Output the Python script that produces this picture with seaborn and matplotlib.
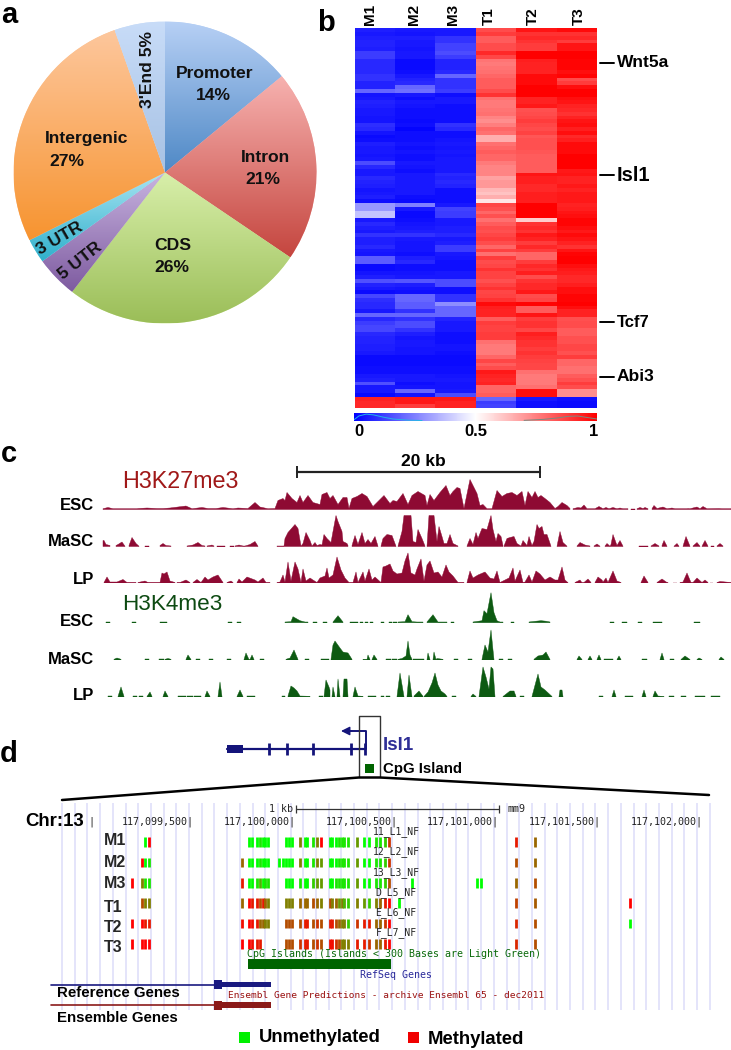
import numpy as np
import matplotlib
matplotlib.use("Agg")
import matplotlib.pyplot as plt
from matplotlib.colors import LinearSegmentedColormap
import seaborn as sns

W, H = 731, 1050

# panel a
pie_labels = ["Promoter", "Intron", "CDS", "5 UTR", "3 UTR", "Intergenic", "3'End"]
pie_values = [14, 20.5, 26, 4.5, 2.6, 27, 5.4]
pie_top = ["#b7d0f5", "#f7b2b0", "#d8efaa", "#c8b4e0", "#a8e4f2", "#fdc79d", "#c8dcf8"]
pie_bottom = ["#4f89c6", "#c5463f", "#9bbe58", "#7e5ba0", "#30b0cc", "#f79430", "#a7c2e4"]

# panel b
heat_samples = ["M1", "M2", "M3", "T1", "T2", "T3"]
heat_m1 = [.06,.05,.06,.07,.07,.06,.12,.12,.08,.08, .08,.08,.1,.1,.07,.07,.2,.04,.05,.07,
           .06,.05,.05,.04,.04,.09,.08,.04,.02,.03, .06,.05,.05,.04,.05,.15,.08,.05,.05,.08,
           .07,.06,.04,.05,.06,.03,.3,.3,.38,.38, .05,.08,.06,.05,.1,.06,.06,.08,.05,.04,
           .18,.18,.02,.02,.04,.06,.16,.07,.05,.02, .14,.09,.08,.08,.05,.2,.08,.12,.14,.14,
           .08,.07,.07,.06,.06,.05,.02,.02,.02,.03, .03,.05,.06,.16,.05,.05,.02,.93,.92,.92]
heat_m2 = [.05,.04,.06,.05,.05,.04,.05,.05,.02,.02, .02,.03,.05,.07,.08,.2,.22,.05,.03,.05,
           .04,.03,.03,.03,.02,.03,.01,.03,.03,.03, .04,.03,.04,.03,.03,.05,.04,.03,.05,.05,
           .05,.05,.05,.05,.03,.02,.25,.05,.02,.02, .03,.04,.05,.06,.1,.05,.04,.04,.04,.03,
           .06,.08,.03,.03,.04,.05,.17,.06,.04,.03, .2,.2,.18,.18,.1,.2,.1,.15,.15,.1,
           .06,.04,.05,.05,.04,.04,.02,.02,.02,.03, .03,.05,.05,.03,.04,.2,.04,.95,.95,.88]
heat_m3 = [.05,.05,.1,.1,.13,.13,.15,.12,.07,.07, .07,.08,.2,.1,.1,.1,.12,.03,.05,.05,
           .03,.03,.03,.03,.03,.1,.08,.03,.03,.04, .05,.04,.05,.04,.05,.05,.05,.05,.08,.07,
           .08,.07,.03,.03,.03,.03,.05,.13,.12,.12, .05,.05,.06,.06,.08,.05,.06,.12,.12,.05,
           .04,.03,.03,.03,.05,.05,.15,.15,.03,.03, .1,.1,.28,.2,.2,.2,.07,.05,.05,.05,
           .03,.03,.03,.04,.04,.03,.02,.02,.02,.03, .03,.04,.05,.04,.04,.05,.15,.95,.93,.93]
heat_t1 = [.85,.88,.82,.82,.85,.85,.92,.86,.77,.76, .77,.78,.8,.82,.82,.82,.85,.9,.78,.76,
           .76,.77,.78,.74,.72,.75,.8,.78,.66,.66, .78,.8,.82,.8,.8,.76,.74,.74,.74,.68,
           .7,.7,.64,.62,.66,.55,.86,.84,.8,.84, .78,.82,.85,.84,.86,.88,.85,.8,.87,.78,
           .88,.85,.86,.9,.87,.87,.84,.87,.9,.86, .87,.9,.98,.94,.93,.93,.82,.88,.87,.87,
           .88,.88,.78,.76,.76,.76,.8,.86,.82,.85, .95,.93,.92,.93,.8,.8,.82,.2,.12,.13]
heat_t2 = [.96,.9,.92,.9,.88,.88,1,1,.94,.93, .93,.93,.98,.98,.98,1,1,1,.93,.93,
           .95,.84,.85,.86,.88,.86,.85,.87,.83,.84, .84,.84,.83,.82,.82,.82,.82,.82,.96,.94,
           .94,.92,.92,.94,.94,.94,1,1,1,1, .6,.9,.92,.9,.95,.93,.88,.92,.88,.8,
           .8,.88,.92,.9,.94,.85,.9,.92,.92,.95, .85,.86,.99,.82,.82,.96,.88,.9,.9,.86,
           .94,.92,.9,.9,.88,.9,.88,.87,.86,.86, .78,.76,.76,.76,.78,.97,.97,.05,.03,.03]
heat_t3 = [.98,.9,.92,.88,.96,.96,1,1,.99,.99, .99,.97,.99,.85,.88,.97,1,1,.97,.96,
           .93,.92,.9,.93,.96,.97,.94,.97,.92,.94, .98,.98,.98,1,1,1,1,.95,.96,.93,
           .93,.95,.93,.95,.95,.95,.93,.94,.96,.97, .99,.99,.97,.95,.98,.96,.93,.9,.96,.99,
           1,1,.97,.95,.94,.92,.92,.94,.97,.97, .99,.99,1,.97,.93,.93,.84,.85,.85,.82,
           .82,.84,.84,.86,.86,.84,.88,.8,.8,.78, .78,.82,.84,.88,.85,.72,.72,.03,.02,.02]
heat_genes = ["Wnt5a", "Isl1", "Tcf7", "Abi3"]
heat_gene_rows = [9.0, 38.7, 77.4, 91.7]
cbar_trace_x = [0, .02, .05, .08, .12, .16, .22, .28, .7, .78, .84, .88, .92, .96, 1]
cbar_trace_y = [.1, .6, .85, .75, .45, .2, .05, 0, .02, .15, .35, .55, .6, .4, .2]

# panel c, position along the locus and signal height
h3k27_esc_pos = [103,108,113,137,138,147,157,163,170,186,192,202,208,216,223,233,238,248,255,260,268,275,278,283,285,287,292,297,300,303,308,313,320,
                 322,327,330,333,338,343,347,349,352,357,362,367,373,377,384,390,393,397,403,408,412,418,425,427,430,434,440,446,450,453,457,460,464,470,475,477,480,483,487,492,497,502,507,512,517,522,525,528,
                 532,535,538,541,545,550,555,558,562,567,570,None,573,578,581,584,587,595,599,603,606,609,613,617,620,623,628,None,631,635,None,637,640,643,645,648,None,652,654,657,663,667,672,675,687,688,690,697,700,703,707,719,722,731]
h3k27_esc_h = [.8,2,.8,.8,1,1.5,1,1,1.5,3.5,.8,2,1,1,2,.8,1.5,1,7,2.5,.8,1,9,11,9,17,11,7,14,7,14,7,5,
               15,17,11,14,5,12,12,1,11,13,16,13,3,7,14,6,9,8,16,5,14,18,14,4,15,9,17,24,14,18,22,21,1,30,20,16,4,5,.8,.8,19,13,16,17,14,18,4,18,
               12,18,12,14,11,7,1,3,7,4,1,None,.8,2,1.5,4.5,.8,.8,3,.8,2,.8,2,.8,1.5,.8,.8,None,.8,.8,None,.8,2,1,2,.8,None,.8,4,1,2.5,.8,1.5,.8,.8,1,.8,2.5,.8,3,.8,1,.8,.8]
h3k27_masc_pos = [103,104,106,110,None,116,118,122,125,None,129,132,136,139,None,145,149,None,160,163,166,171,None,187,193,198,202,205,None,207,212,214,None,217,225,None,230,234,None,235,239,243,245,250,255,258,None,277,284,285,288,295,298,301,303,306,310,312,315,317,320,
                  322,324,327,331,333,336,338,342,343,347,348,None,352,355,358,362,365,368,371,375,378,None,381,383,387,392,396,None,398,402,404,411,413,416,418,422,425,None,427,429,434,437,439,442,444,447,450,453,458,None,467,470,473,476,478,482,487,491,493,496,498,501,503,None,504,507,510,514,517,521,523,527,529,
                  532,534,537,539,542,544,547,551,None,557,560,563,567,None,577,580,585,590,None,594,597,600,None,605,607,610,611,613,617,620,623,None,639,648,None,651,655,659,None,662,664,667,None,674,677,679,None,683,686,690,None,693,697,700,None,702,705,708,None,711,714,None,717,720,723]
h3k27_masc_h = [6,6,2,1,None,1,2,4.5,.3,None,1,9,3,.3,None,1,1,None,1,3,1,.5,None,.5,1.5,4,1,.5,None,.5,1.5,.5,None,.5,.5,None,1,1,None,.5,1.5,.5,.5,2,5,.3,None,.5,.5,8,14,22,18,.5,3,14,6,.5,4,1,2,
                1.5,12,8,4,15,31,25,15,5,3,1,None,1,11,2,14,3,7,3,10,.3,None,.5,8,12,11,.3,None,.5,15,31,31,5,4,17,8,.5,None,.5,31,31,5,20,10,3,3,12,3,.5,None,.5,8,2,14,8,18,17,31,17,5,13,10,1,None,.5,8,9,10,3,.5,6,1,10,
                1,5,22,18,20,12,12,.3,None,.3,15,4,.3,None,.5,4,1.5,.5,None,.5,2.5,.3,None,.5,3,.3,2,12,1,6,.3,None,.5,.5,None,.5,3,.5,None,1,6,.3,None,.3,3,.3,None,.3,10,.3,None,.5,4,.3,None,.3,6,.3,None,.5,.5,None,.5,3,.5]
h3k27_lp_pos = [104,107,110,117,123,127,136,None,138,145,148,160,162,164,167,170,175,None,177,180,186,190,None,193,197,201,205,208,213,218,223,None,227,231,233,None,237,239,242,247,255,258,263,266,270,None,277,280,283,285,288,291,295,298,301,303,306,310,313,
                317,320,325,327,329,333,337,341,345,349,353,356,358,363,365,369,372,375,381,383,386,390,393,397,402,405,408,411,415,417,421,424,427,430,434,438,442,446,449,453,458,464,None,467,470,473,478,485,490,494,497,500,505,509,513,515,520,523,525,529,532,536,540,545,550,555,558,562,565,568,None,575,580,582,584,588,591,None,595,598,602,603,606,608,613,617,621,None,641,644,648,None,657,662,667,668,None,673,677,None,680,683,687,691,693,697,702,705,708,None,710,713,None,717,720,731]
h3k27_lp_h = [.5,6,1,1,3.5,.5,.5,None,.5,2,.5,.5,10,9,11,2,.5,None,.5,.5,3,.5,None,.5,3.5,.5,6,3,6,8,.5,None,.5,2,.5,None,.5,4,1,6,3,1,5,.5,.5,None,.5,1,8,1,21,2,21,14,.5,14,2,5,3,
              .5,5,7,15,5,8,26,13,5,.5,.5,11,.5,11,2,14,3,6,.5,16,17,19,12,9,10,22,30,10,8,14,24,2,18,22,10,11,6,18,11,7,.5,.5,None,.5,12,5,8,11,5,4,12,.5,3,5,15,2,13,.5,1,8,1,12,9,3,6,3,3,16,3,.3,None,.5,3,.3,.5,4,.5,None,.5,6,3,1,5,.5,12,2,.5,None,.5,7,.5,None,.5,4,.5,.5,None,.5,.5,None,.5,1,10,.5,.5,5,.5,3,.5,None,.5,.5,None,.5,1.5,.5]
h3k4_esc_pos = [106,110,None,132,136,None,160,167,None,228,232,None,237,241,None,285,291,293,300,305,308,None,313,317,None,323,327,None,333,338,343,None,350,358,None,360,363,None,365,368,None,370,373,None,381,384,None,389,392,None,393,397,None,398,405,408,412,417,423,None,427,433,438,447,None,451,454,None,473,482,484,487,491,494,497,500,503,None,511,514,None,529,536,541,546,550,None,610,614,None,622,627,None,638,642,None,653,662,None,694,700]
h3k4_esc_h = [.7,.7,None,.7,.7,None,.7,.7,None,.7,.7,None,.7,.7,None,.7,1,6,2,.7,.7,None,.7,.7,None,.7,.7,None,.7,7,.7,None,.7,.7,None,.7,.7,None,.7,.7,None,.7,.7,None,.7,.7,None,.7,.7,None,.7,.7,None,.7,1,8,1,.7,.7,None,.7,8,.7,.7,None,.7,.7,None,.7,2,12,9,30,10,2,.7,.7,None,.7,.7,None,.7,1.5,2,1.5,.7,None,.7,.7,None,.7,.7,None,.7,.7,None,.7,.7,None,.7,.7]
h3k4_masc_pos = [114,117,121,None,145,149,None,159,164,None,165,168,171,None,186,188,191,None,196,200,None,209,213,None,227,231,None,244,246,249,250,252,254,None,260,264,None,286,290,294,298,None,305,309,None,321,329,None,331,333,335,340,343,348,352,None,363,367,368,370,None,372,374,377,None,386,391,None,392,397,None,398,402,406,408,410,412,None,413,424,None,427,428,430,None,433,434,436,437,443,None,454,458,None,468,472,None,482,485,488,491,493,494,None,499,503,None,508,512,None,534,538,543,546,550,None,577,579,582,None,588,590,592,None,597,599,601,None,604,613,None,617,619,621,None,642,647,None,660,662,664,None,670,674,None,681,685,690,None,697,699,702,None,719,721,724]
h3k4_masc_h = [.7,2,.7,None,.7,.7,None,.7,.7,None,.7,1.5,.7,None,.7,5,.5,None,.7,.7,None,.7,.7,None,.7,.7,None,.5,7,.5,.5,5,.5,None,.7,.7,None,.7,2,10,.5,None,.7,.7,None,.7,.7,None,.7,15,19,12,8,7,.7,None,.7,.7,5,.5,None,.5,5,.5,None,.7,.7,None,.7,.7,None,.7,1.5,4,19,5,.7,None,.7,.7,None,.5,7,.5,None,.5,8,.5,1.5,.7,None,.7,.7,None,.7,.7,None,.7,15,8,30,10,.5,None,.7,.7,None,.7,.7,None,.7,4,5,8,.5,None,.5,4,.5,None,.5,4,.5,None,.5,5,.5,None,.7,.7,None,.5,4,.5,None,.7,.7,None,.5,7,.5,None,.7,.7,None,.5,4,.5,None,.5,2,.5,None,.5,3,.5]
h3k4_lp_pos = [108,112,None,118,121,124,None,133,137,None,139,143,None,147,150,152,None,163,165,168,None,178,186,None,187,193,None,194,201,None,205,207,210,None,218,220,222,None,237,240,243,None,247,255,None,282,285,None,288,291,294,297,300,310,None,319,323,None,324,326,329,330,None,332,333,335,None,337,338,340,None,343,344,347,348,None,353,355,358,363,None,368,376,None,381,384,None,386,390,None,397,400,404,None,407,409,412,None,414,419,423,None,424,428,432,435,438,441,445,447,None,452,456,None,471,473,476,None,479,483,486,489,491,493,495,None,503,510,514,516,None,520,524,None,532,538,541,545,552,None,559,560,562,563,None,599,603,None,612,614,616,None,625,633,None,642,644,646,None,653,655,658,664,None,669,674,None,681,686,None,695,705,None,711,720]
h3k4_lp_h = [.7,.7,None,.5,10,.5,None,.7,.7,None,.7,.7,None,.5,5,.5,None,.5,6,.5,None,.7,.7,None,.7,.7,None,.7,.7,None,.5,6,.5,None,.5,15,.5,None,.5,7,.5,None,.7,.7,None,.7,.7,None,1,11,9,6,1,.7,None,.7,.7,None,.5,17,10,7,None,.5,10,.5,None,.5,18,.5,None,.5,18,18,.5,None,.5,10,1,.7,None,.7,.7,None,.7,.7,None,.7,.7,None,.5,24,.5,None,.5,22,.5,None,1,6,.7,None,.5,5,14,24,12,6,3,.5,None,.7,.7,None,.5,3,.5,None,.5,30,20,8,30,28,.5,None,.5,6,6,.5,None,.7,.7,None,.5,23,10,7,.5,None,.5,7,7,.5,None,.7,.7,None,.5,7,.5,None,.7,.7,None,.5,7,.5,None,.5,6,1,.5,None,.7,.7,None,.7,.7,None,.7,.7,None,.7,.7]

# panel d, sites in bp on chr13
cpg_sites = [117099195,117099244,117099261,117099279,117099734,117099772,117099784,117099811,117099824,117099838,117099849,
             117099862,117099919,117099936,117099952,117099965,117099982,117100021,117100044,117100054,117100083,117100105,
             117100124,117100169,117100178,117100196,117100211,117100226,117100239,117100259,117100300,117100336,117100360,
             117100396,117100414,117100439,117100460,117100508,117100570,117100890,117100911,117101081,117101176,117101643]
n = None
meth_m1 = [n,n,0,1,n,0,0,0,.1,0,0,0,n,n,0,0,0,.5,0,0,.1,.5,1,0,0,0,.1,.1,.1,.1,.4,0,0,.1,.1,.2,.8,n,n,n,n,.9,.6,n]
meth_m2 = [n,1,0,.1,.6,0,0,0,.1,0,0,0,0,0,0,0,0,.5,0,0,.1,.5,.4,0,0,0,.1,.1,.1,.1,.4,0,0,.1,.1,.2,.8,n,n,n,n,.7,.6,n]
meth_m3 = [1,.5,.1,.1,.9,0,0,.1,.3,0,.1,.1,n,n,0,0,0,.1,0,0,.2,.4,.4,0,0,.1,.1,.1,.1,.1,.4,0,0,.1,.1,.2,.7,n,0,0,0,.6,.7,n]
meth_t1 = [n,.7,.5,.5,.6,1,.9,.9,.7,.9,.6,.5,n,n,.5,.5,.5,.6,.6,.6,.7,.6,.5,.7,.5,.6,.4,.5,.3,.2,.5,.4,.2,.5,.6,.9,1,0,n,n,n,.75,.65,1]
meth_t2 = [1,1,.9,.9,.95,1,.95,.9,.6,.6,.5,.5,n,n,.7,.7,.7,.7,.9,.9,.7,.8,.7,.9,.9,.7,.6,.5,.5,.2,.8,.9,.9,.6,.6,.8,1,n,n,n,n,.85,.7,0]
meth_t3 = [1,1,1,1,1,1,.95,.9,.9,n,n,n,n,n,.7,.7,.7,.8,.9,.9,.7,.8,.7,.95,.95,.8,.7,.5,.5,.5,.9,.9,.8,.6,.6,.9,1,n,n,n,n,.85,.7,n]
meth_rows = [meth_m1, meth_m2, meth_m3, meth_t1, meth_t2, meth_t3]
meth_labels = ["M1", "M2", "M3", "T1", "T2", "T3"]
meth_names = ["11_L1_NF", "12_L2_NF", "13_L3_NF", "D_L5_NF", "E_L6_NF", "F_L7_NF"]
tick_bp = [117099500, 117100000, 117100500, 117101000, 117101500, 117102000]
cpg_island = [117099765, 117100468]
reference_gene = [116999000, 117099600, 117099640, 117099880]
isl1_exons = [269, 287, 313, 351, 365]


sns.set_theme(style="white")
plt.rcParams['font.family'] = ['Liberation Sans', 'DejaVu Sans']
fig = plt.figure(figsize=(W / 100, H / 100), dpi=100)


def px_axes(left, top, width, height):
    return fig.add_axes([left / W, 1 - (top + height) / H, width / W, height / H])


# --- a: pie, each slice filled with its own vertical gradient ---
ax_pie = px_axes(13.5, 21.5, 303, 302)
wedges, _ = ax_pie.pie(pie_values, startangle=90, counterclock=False, radius=1,
                       colors=pie_top, wedgeprops={"linewidth": 0})
for wedge, top, bottom in zip(wedges, pie_top, pie_bottom):
    cmap = LinearSegmentedColormap.from_list("slice", [top, bottom])
    box = wedge.get_path().transformed(wedge.get_patch_transform()).get_extents()
    grad = np.linspace(0, 1, 128).reshape(-1, 1)
    im = ax_pie.imshow(grad, cmap=cmap, aspect="auto", origin="upper",
                       extent=[box.x0, box.x1, box.y0, box.y1], zorder=2)
    im.set_clip_path(wedge)
    wedge.set_edgecolor("white")
ax_pie.set_aspect("auto")
ax_pie.set_xlim(-1, 1)
ax_pie.set_ylim(-1, 1)

# --- b: heatmap ---
heat = np.array([heat_m1, heat_m2, heat_m3, heat_t1, heat_t2, heat_t3]).T
ax_heat = px_axes(354.7, 28.3, 242.3, 380)
ax_cbar = px_axes(354, 413, 243, 7.5)
sns.heatmap(heat, ax=ax_heat, cmap="bwr", vmin=0, vmax=1, cbar_ax=ax_cbar,
            cbar_kws={"orientation": "horizontal"}, xticklabels=False, yticklabels=False)
ax_cbar.tick_params(length=0, labelbottom=False)
ax_trace = px_axes(354, 413, 243, 7.5)
sns.lineplot(x=cbar_trace_x[:8], y=cbar_trace_y[:8], ax=ax_trace, color="#22b5e8", linewidth=0.7)
sns.lineplot(x=cbar_trace_x[8:], y=cbar_trace_y[8:], ax=ax_trace, color="#7a8a80", linewidth=0.7)
ax_trace.set_xlim(0, 1)
ax_trace.set_ylim(0, 1)
ax_trace.axis("off")

# --- c: signal tracks ---
red_track = "#8e0a33"
green_track = "#0d5a12"
tracks = [(h3k27_esc_pos, h3k27_esc_h, 509.5, red_track), (h3k27_masc_pos, h3k27_masc_h, 546.5, red_track),
          (h3k27_lp_pos, h3k27_lp_h, 583, red_track), (h3k4_esc_pos, h3k4_esc_h, 622.7, green_track),
          (h3k4_masc_pos, h3k4_masc_h, 660, green_track), (h3k4_lp_pos, h3k4_lp_h, 697, green_track)]
for pos, height, baseline, color in tracks:
    ax_track = px_axes(0, baseline - 40, W, 40)
    ax_track.fill_between(np.array(pos, dtype=float), 0, np.array(height, dtype=float),
                          color=color, linewidth=0.3)
    ax_track.set_xlim(0, W)
    ax_track.set_ylim(0, 40)
    ax_track.axis("off")

# --- d: browser view, x in bp ---
bp_per_px = 500 / 101.7
bp_left = 117099500 - 194 * bp_per_px
ax_d = px_axes(0, 0, W, H)
ax_d.set_xlim(bp_left, bp_left + W * bp_per_px)
ax_d.set_ylim(H, 0)
ax_d.axis("off")
guides = bp_left + np.arange(62, 711, 12.7) * bp_per_px
ax_d.vlines(guides, 803, 1010, color="#e2e2fa", linewidth=1.3, zorder=1)

mono = "DejaVu Sans Mono"
green_rgb = np.array([0, 1, 0])
red_rgb = np.array([1, 0, 0])
row_y = [842, 862.5, 883, 903, 923.5, 944]
name_y = [832, 852, 873, 893, 913, 933]
for values, y, label, name, ly in zip(meth_rows, row_y, meth_labels, meth_names,
                                      [840.5, 862.7, 884, 907, 927, 947]):
    for site, frac in zip(cpg_sites, values):
        if frac is None:
            continue
        ax_d.vlines(site, y - 4.8, y + 4.8, color=frac * red_rgb + (1 - frac) * green_rgb,
                    linewidth=2.0, zorder=2)
    ax_d.text(bp_left + 103.5 * bp_per_px, ly, label, fontweight="bold", fontsize=11.5, va="center")
    ax_d.text(bp_left + 396 * bp_per_px, name_y[meth_labels.index(label)], name, family=mono,
              fontsize=7, ha="center", va="center", color="#222222")

for tick in tick_bp:
    ax_d.text(tick, 822, f"{tick:,}|", family=mono, fontsize=7.2, ha="right", va="center", color="#222222")
ax_d.text(bp_left + 91 * bp_per_px, 822, "|", family=mono, fontsize=7.2, ha="center", va="center")
ax_d.plot([117100000, 117101000], [809, 809], color="#333333", linewidth=0.9)
ax_d.vlines([117100000, 117101000], 805, 813, color="#333333", linewidth=0.9)
ax_d.text(bp_left + 293 * bp_per_px, 809, "1 kb", family=mono, fontsize=7.2, ha="right", va="center")
ax_d.text(bp_left + 508 * bp_per_px, 809, "mm9", family=mono, fontsize=7.2, ha="left", va="center")
ax_d.text(bp_left + 247 * bp_per_px, 954, "CpG Islands (Islands < 300 Bases are Light Green)",
          family=mono, fontsize=7.2, va="center", color="#0a6a0a")
ax_d.fill_between(cpg_island, 959, 969, color="#006400", linewidth=0, zorder=3)
ax_d.text(bp_left + 396 * bp_per_px, 975, "RefSeq Genes", family=mono, fontsize=7.2, ha="center",
          va="center", color="#2a2a9a")
ax_d.text(bp_left + 228 * bp_per_px, 995, "Ensembl Gene Predictions - archive Ensembl 65 - dec2011",
          family=mono, fontsize=6.8, va="center", color="#9a1010")
for y, color in [(984.7, "#1a1a80"), (1005, "#8b1a1a")]:
    ax_d.plot([bp_left + 51 * bp_per_px, reference_gene[1]], [y, y], color=color, linewidth=1.2, zorder=3)
    ax_d.fill_between(reference_gene[1:3], y - 4.5, y + 4.5, color=color, linewidth=0, zorder=3)
    ax_d.fill_between(reference_gene[2:], y - 2.6, y + 2.6, color=color, linewidth=0, zorder=3)

# --- overlay in figure pixels: panel letters, labels, schematic ---
ov = px_axes(0, 0, W, H)
ov.set_xlim(0, W)
ov.set_ylim(H, 0)
ov.axis("off")


def label(x, y, s, size=12, weight="bold", color="black", ha="left", va="center", rotation=0):
    ov.text(x, y, s, fontsize=size, fontweight=weight, color=color, ha=ha, va=va, rotation=rotation)


for x, y, s in [(1, 23, "a"), (317, 31, "b"), (1, 462, "c"), (0, 762, "d")]:
    label(x, y, s, size=21, va="baseline")

pie_text = [(215, 73, "Promoter", 0), (213, 96, "14%", 0), (265, 158, "Intron", 0), (263, 180, "21%", 0),
            (173, 246, "CDS", 0), (172, 268, "26%", 0), (87, 138, "Intergenic", 0), (67, 161, "27%", 0),
            (60, 238, "3 UTR", 30), (80, 261, "5 UTR", 38), (148, 69, "3'End 5%", 90)]
for x, y, s, rot in pie_text:
    label(x, y, s, size=12.6, ha="center", rotation=rot, color="#111111")

for x, s in zip([370, 414, 453, 489, 533, 579], heat_samples):
    label(x, 25, s, size=11, ha="center", va="bottom", rotation=90)
for gene, row, size in zip(heat_genes, heat_gene_rows, [12.5, 14.5, 12, 12.5]):
    y = 28.3 + row * 3.8
    ov.plot([600, 614], [y, y], color="black", linewidth=1.4)
    label(617, y, gene, size=size)
for x, s in [(359, "0"), (476, "0.5"), (594, "1")]:
    label(x, 432, s, size=12, ha="center")

label(122, 481.5, "H3K27me3", size=16.8, weight="normal", color="#a01818")
label(122, 604, "H3K4me3", size=16.2, weight="normal", color="#0d4a12")
for y, s in [(506, "ESC"), (541, "MaSC"), (580, "LP"), (621, "ESC"), (660, "MaSC"), (696, "LP")]:
    label(94, y, s, size=12, ha="right")
label(423, 461, "20 kb", size=12.5, ha="center")
ov.plot([296.5, 540], [472, 472], color="#222222", linewidth=1.6)
ov.vlines([296.5, 540], 466, 478, color="#222222", linewidth=1.4)

# Isl1 gene model and the zoom box
navy = "#14147a"
ov.plot([227, 365], [748.7, 748.7], color=navy, linewidth=1.6)
ov.fill_between([227, 243], 744.7, 752.7, color=navy, linewidth=0)
ov.vlines(isl1_exons, 743, 755, color=navy, linewidth=2)
ov.plot([365.5, 365.5, 348], [749, 731, 731], color=navy, linewidth=1.4)
ov.annotate("", xy=(341, 731), xytext=(352, 731),
            arrowprops={"arrowstyle": "-|>", "color": navy, "mutation_scale": 13, "shrinkA": 0, "shrinkB": 0})
ov.plot([359, 359, 380, 380], [777, 716, 716, 777], color="#333333", linewidth=1)
ov.plot([62, 359, 380, 709], [800, 777.5, 777.5, 795], color="black", linewidth=1.8)
ov.fill_between([365, 374], 764, 773, color="#006400", linewidth=0)
label(383, 745, "Isl1", size=13.5, color="#2e2e96")
label(383, 769, "CpG Island", size=10.8)
label(25, 821, "Chr:13", size=13.4)
label(57, 993, "Reference Genes", size=10.8)
label(57, 1017.5, "Ensemble Genes", size=10.8)

ov.fill_between([239, 250], 1032, 1043, color="#00f000", linewidth=0)
label(259, 1038, "Unmethylated", size=13.3)
ov.fill_between([408, 419], 1032, 1043, color="#f00000", linewidth=0)
label(427.5, 1039, "Methylated", size=13.3)

plt.savefig("out.png", dpi=100)
plt.close()
